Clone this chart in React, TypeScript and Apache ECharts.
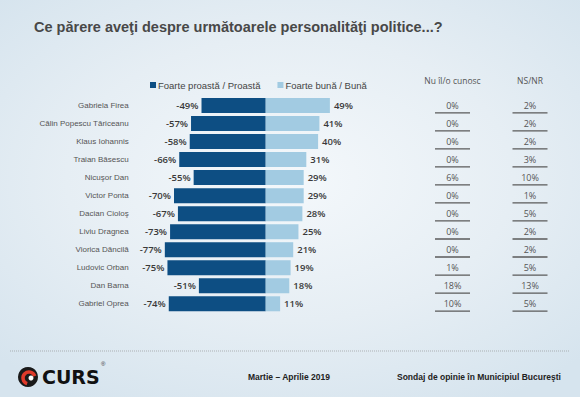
import React, { useEffect, useRef } from "react";
import * as echarts from "echarts";

const names = [
  "Gabriela Firea",
  "Călin Popescu Tăriceanu",
  "Klaus Iohannis",
  "Traian Băsescu",
  "Nicuşor Dan",
  "Victor Ponta",
  "Dacian Cioloş",
  "Liviu Dragnea",
  "Viorica Dăncilă",
  "Ludovic Orban",
  "Dan Barna",
  "Gabriel Oprea",
];
const negative = [-49, -57, -58, -66, -55, -70, -67, -73, -77, -75, -51, -74];
const positive = [49, 41, 40, 31, 29, 29, 28, 25, 21, 19, 18, 11];
const dontKnow = [0, 0, 0, 0, 6, 0, 0, 0, 0, 1, 18, 10];
const nsnr = [2, 2, 2, 3, 10, 1, 5, 2, 2, 5, 13, 5];
const tableHeaders = ["Nu îl/o cunosc", "NS/NR"];
const seriesNames = ["Foarte proastă / Proastă", "Foarte bună / Bună"];

const DARK = "#0d4e83";
const LIGHT = "#a2cbe2";

export default function App() {
  const ref = useRef<HTMLDivElement>(null);
  useEffect(() => {
    document.body.style.margin = "0";
    const chart = echarts.init(ref.current!, null, { renderer: "svg" });
    const tableData: number[][] = [];
    dontKnow.forEach((v, i) => tableData.push([0, i, v]));
    nsnr.forEach((v, i) => tableData.push([1, i, v]));

    const gridTop = 96.5;
    const gridH = 216.3;

    chart.setOption({
      animation: false,
      backgroundColor: "transparent",
      textStyle: { fontFamily: "Liberation Sans, Arial, sans-serif" },
      legend: {
        data: seriesNames,
        left: 145,
        top: 75,
        icon: "rect",
        itemWidth: 6,
        itemHeight: 6,
        itemGap: 17,
        textStyle: { fontSize: 9.5, color: "#444", padding: [0, 0, 0, -3] },
      },
      grid: [
        { left: 134.7, width: 262, top: gridTop, height: gridH },
        { left: 413.75, width: 155, top: gridTop, height: gridH },
      ],
      xAxis: [
        { gridIndex: 0, type: "value", min: -100, max: 100, show: false },
        {
          gridIndex: 1,
          type: "category",
          position: "top",
          data: tableHeaders,
          axisLine: { show: false },
          axisTick: { show: false },
          axisLabel: {
            margin: 12,
            fontSize: 8.5,
            color: "#555",
            fontFamily: "Open Sans, sans-serif",
          },
        },
      ],
      yAxis: [
        {
          gridIndex: 0,
          type: "category",
          data: names,
          inverse: true,
          axisLine: { show: false },
          axisTick: { show: false },
          axisLabel: { margin: 6, fontSize: 8, color: "#555" },
        },
        {
          gridIndex: 1,
          type: "category",
          data: names,
          inverse: true,
          show: false,
        },
      ],
      series: [
        {
          name: seriesNames[0],
          type: "bar",
          stack: "a",
          data: negative,
          barWidth: 15,
          itemStyle: { color: DARK },
          label: {
            show: true,
            position: "left",
            distance: 3,
            formatter: "{c}%",
            fontSize: 9.5,
            fontWeight: 600,
            color: "#3a3a3a",
            fontFamily: "Open Sans, sans-serif",
          },
        },
        {
          name: seriesNames[1],
          type: "bar",
          stack: "a",
          data: positive,
          barWidth: 15,
          itemStyle: { color: LIGHT },
          label: {
            show: true,
            position: "right",
            distance: 4,
            formatter: "{c}%",
            fontSize: 9.5,
            fontWeight: 600,
            color: "#3a3a3a",
            fontFamily: "Open Sans, sans-serif",
          },
        },
        {
          type: "custom",
          xAxisIndex: 1,
          yAxisIndex: 1,
          data: tableData,
          renderItem: (params: any, api: any) => {
            const p = api.coord([api.value(0), api.value(1)]);
            const v = api.value(2);
            return {
              type: "group",
              children: [
                {
                  type: "text",
                  x: p[0],
                  y: p[1] - 0.5,
                  style: {
                    text: v + "%",
                    align: "center",
                    verticalAlign: "middle",
                    fontSize: 9,
                    fill: "#555",
                    fontFamily: "Open Sans, sans-serif",
                  },
                },
                {
                  type: "line",
                  shape: { x1: p[0] - 17.5, y1: p[1] + 7.3, x2: p[0] + 17.5, y2: p[1] + 7.3 },
                  style: { stroke: "#5a5a5a", lineWidth: 1.3 },
                },
              ],
            };
          },
        },
      ],
      graphic: [
        {
          type: "text",
          left: 34,
          top: 19,
          style: {
            text: "Ce părere aveţi despre următoarele personalităţi politice...?",
            fontSize: 14.5,
            fontWeight: "bold",
            fill: "#484848",
            fontFamily: "Liberation Sans, Arial, sans-serif",
          },
        },
        {
          type: "line",
          shape: { x1: 10, y1: 351, x2: 570, y2: 351 },
          style: { stroke: "#8a8a8a", lineWidth: 0.6, lineDash: [1, 1] },
        },
        { type: "circle", shape: { cx: 28, cy: 377, r: 10 }, style: { fill: "#1a1a1a" } },
        {
          type: "arc",
          shape: { cx: 29, cy: 378, r: 6, startAngle: Math.PI * 0.6, endAngle: Math.PI * 1.9 },
          style: { stroke: "#e03a2a", lineWidth: 3.5, fill: "none" },
        },
        { type: "circle", shape: { cx: 31, cy: 378, r: 2.5 }, style: { fill: "#ffffff" } },
        {
          type: "text",
          left: 42,
          top: 367,
          style: {
            text: "CURS",
            fontSize: 19,
            fontWeight: "bold",
            fill: "#111",
            fontFamily: "DejaVu Sans, sans-serif",
          },
        },
        {
          type: "text",
          left: 101,
          top: 361,
          style: { text: "®", fontSize: 6, fill: "#333" },
        },
        {
          type: "text",
          left: 248,
          top: 372,
          style: {
            text: "Martie – Aprilie 2019",
            fontSize: 8.5,
            fontWeight: "bold",
            fill: "#222",
            fontFamily: "Liberation Sans, Arial, sans-serif",
          },
        },
        {
          type: "text",
          left: 397,
          top: 372,
          style: {
            text: "Sondaj de opinie în Municipiul Bucureşti",
            fontSize: 8.5,
            fontWeight: "bold",
            fill: "#222",
            fontFamily: "Liberation Sans, Arial, sans-serif",
          },
        },
      ],
    });
    return () => chart.dispose();
  }, []);
  return (
    <div
      ref={ref}
      style={{
        width: 580,
        height: 397,
        background:
          "radial-gradient(ellipse 70% 65% at 50% 45%, #f4f8fb 0%, #e6eef4 55%, #d6e4ee 100%)",
      }}
    />
  );
}
